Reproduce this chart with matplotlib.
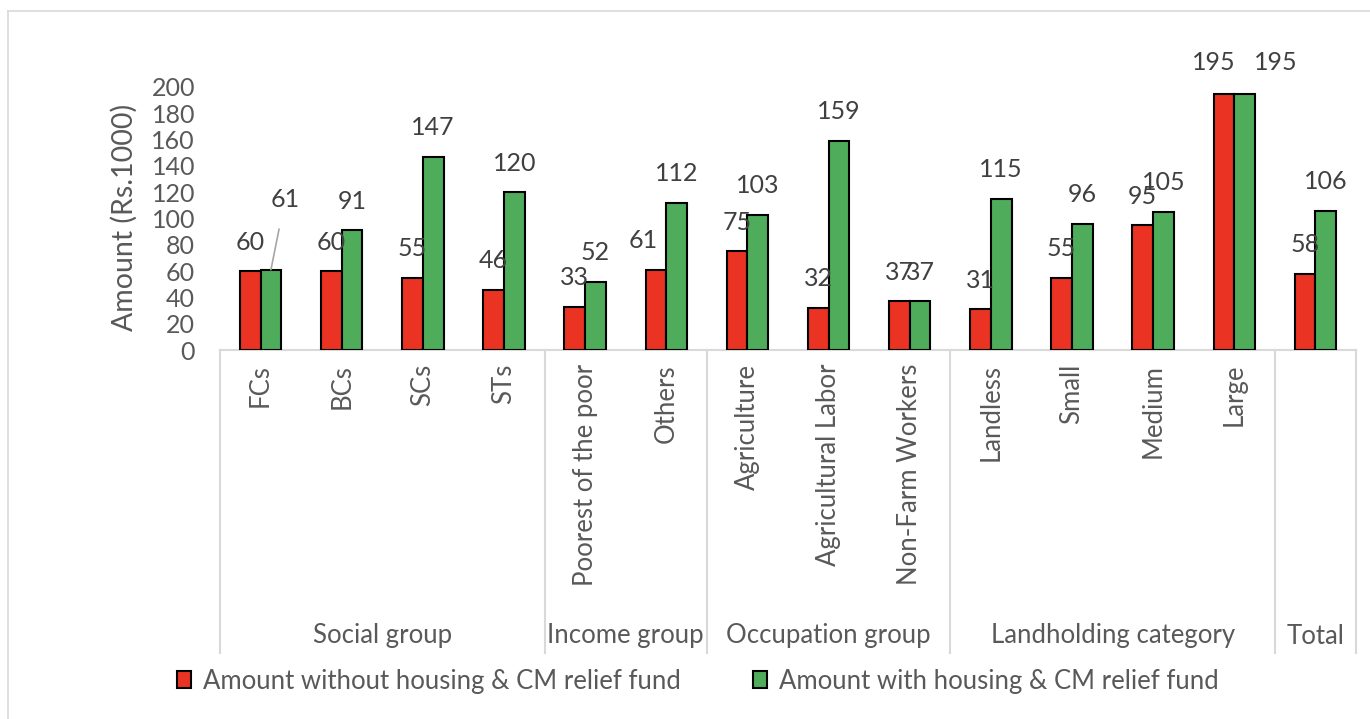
import matplotlib
matplotlib.use("Agg")
import matplotlib.pyplot as plt
import matplotlib.transforms as mtransforms
from matplotlib.lines import Line2D
from matplotlib.patches import Patch

plt.rcParams['font.family'] = ['Lato', 'DejaVu Sans']

# data
categories = ["FCs", "BCs", "SCs", "STs", "Poorest of the poor", "Others",
              "Agriculture", "Agricultural Labor", "Non-Farm Workers",
              "Landless", "Small", "Medium", "Large", "Total"]
without_fund = [60, 60, 55, 46, 33, 61, 75, 32, 37, 31, 55, 95, 195, 58]
with_fund = [61, 91, 147, 120, 52, 112, 103, 159, 37, 115, 96, 105, 195, 106]
groups = ["Social group", "Income group", "Occupation group", "Landholding category", "Total"]
group_sizes = [4, 2, 3, 4, 1]

RED = '#EA3323'
GREEN = '#4EAC5B'
GREY_TXT = '#595959'
GRID = '#D9D9D9'

fig = plt.figure(figsize=(13.7, 7.19), dpi=100)
ax = fig.add_axes([220/1370, 1-350/719, 1136/1370, 263/719])

n = len(categories)
xs = [i + 0.5 for i in range(n)]
w = 0.255
ax.bar([x - w/2 for x in xs], without_fund, w, color=RED, edgecolor='black', linewidth=1.5, zorder=3)
ax.bar([x + w/2 for x in xs], with_fund, w, color=GREEN, edgecolor='black', linewidth=1.5, zorder=3)

ax.set_xlim(0, n)
ax.set_ylim(0, 200)
ax.set_yticks(range(0, 201, 20))
ax.tick_params(axis='y', length=0, pad=18, labelsize=18, labelcolor=GREY_TXT)
# the "Total" bar has only the group label underneath
ticklabels = [c if g != "Total" else "" for c, g in
              zip(categories, [gr for gr, s in zip(groups, group_sizes) for _ in range(s)])]
ax.set_xticks(xs)
ax.set_xticklabels(ticklabels, rotation=90, fontsize=18.5, color=GREY_TXT)
ax.tick_params(axis='x', length=0, pad=10)
for s in ['top', 'right', 'left']:
    ax.spines[s].set_visible(False)
ax.spines['bottom'].set_color(GRID)
ax.spines['bottom'].set_linewidth(1.5)

ax.set_ylabel("Amount (Rs.1000)", fontsize=20.5, color=GREY_TXT)
ax.yaxis.set_label_coords(-0.072, 0.504)

# data labels: default 29px above bar top, a few moved by hand (px offsets)
px = 0.72
moved = {(0, 1): (14, 70), (5, 0): (-13, 29), (12, 0): (-10, 31), (12, 1): (31, 31)}
for k, vals in enumerate([without_fund, with_fund]):
    for i, v in enumerate(vals):
        x = xs[i] + (w/2 if k else -w/2)
        dx, dy = moved.get((i, k), (0, 29))
        arrow = None
        if (i, k) == (0, 1):
            arrow = dict(arrowstyle='-', color='#A6A6A6', lw=1.2, shrinkA=11, shrinkB=0)
        ax.annotate(str(v), xy=(x, v), xytext=(dx*px, dy*px), textcoords='offset points',
                    ha='center', va='center', fontsize=18, color='#404040',
                    arrowprops=arrow, zorder=4)

# group separators and group labels below the axis
trans = mtransforms.blended_transform_factory(ax.transData, ax.transAxes)
bounds = [0]
for g in group_sizes:
    bounds.append(bounds[-1] + g)
for b in bounds:
    ax.plot([b, b], [0, -303/263], color=GRID, lw=1.5, transform=trans, clip_on=False)
for g, a, b in zip(groups, bounds[:-1], bounds[1:]):
    ax.text((a + b) / 2, -286/263, g, transform=trans, ha='center', va='center',
            fontsize=18.5, color=GREY_TXT)

# legend
h1 = Patch(facecolor=RED, edgecolor='black', linewidth=1.5)
h2 = Patch(facecolor=GREEN, edgecolor='black', linewidth=1.5)
for h, lab, x0 in [(h1, "Amount without housing & CM relief fund", 177),
                   (h2, "Amount with housing & CM relief fund", 753)]:
    fig.legend([h], [lab], loc='center left', bbox_to_anchor=(x0/1370, 1-681/719),
               frameon=False, borderpad=0, borderaxespad=0, handlelength=0.55,
               handleheight=0.62, handletextpad=0.45, prop={'size': 18.5},
               labelcolor=GREY_TXT)

# chart frame (top and left edges visible)
fig.add_artist(Line2D([8/1370, 1], [1-11/719, 1-11/719], color=GRID, lw=1.2))
fig.add_artist(Line2D([8/1370, 8/1370], [0, 1-11/719], color=GRID, lw=1.2))

fig.savefig("out.png", dpi=100)
